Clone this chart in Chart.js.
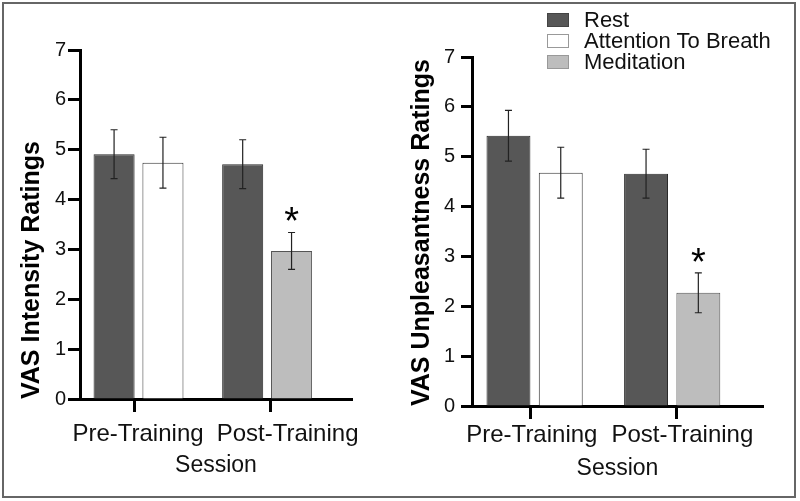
<!DOCTYPE html>
<html>
<head>
<meta charset="utf-8">
<script src="https://cdn.jsdelivr.net/npm/chart.js@4.4.1/dist/chart.umd.min.js"></script>
<style>
  body { margin: 0; background: #fff; }
  #wrap { position: relative; width: 800px; height: 501px; overflow: hidden; font-family: "Liberation Sans", Arial, sans-serif; }
  #frame { position: absolute; left: 2px; top: 2px; width: 790px; height: 492px; border: 2px solid #666; }
  canvas { position: absolute; top: 0; }
  #left { left: 0; }
  #right { left: 400px; }
  #legend { position: absolute; left: 547px; top: 9px; }
  .item { position: relative; height: 21px; line-height: 21px; font-size: 22px; color: #111; white-space: nowrap; }
  .box { position: absolute; left: 0; top: 4px; width: 22px; height: 14px; box-sizing: border-box; }
  .txt { position: absolute; left: 37px; top: 0; }
</style>
</head>
<body>
<div id="wrap">
  <div id="frame"></div>
  <canvas id="left" width="400" height="501"></canvas>
  <canvas id="right" width="400" height="501"></canvas>
  <div id="legend"></div>
</div>
<script>
const categories = ["Pre-Training", "Post-Training"];
const seriesNames = ["Rest", "Attention To Breath", "Meditation"];
const yTicks = [0, 1, 2, 3, 4, 5, 6, 7];

// VAS Intensity Ratings (mean, SE)
const intensityRest = [4.91, 4.71];
const intensityRestErr = [0.49, 0.49];
const intensityBreath = [4.74, null];
const intensityBreathErr = [0.51, null];
const intensityMed = [null, 2.97];
const intensityMedErr = [null, 0.37];

// VAS Unpleasantness Ratings (mean, SE)
const unpleasRest = [5.42, 4.66];
const unpleasRestErr = [0.51, 0.49];
const unpleasBreath = [4.68, null];
const unpleasBreathErr = [0.51, null];
const unpleasMed = [null, 2.27];
const unpleasMedErr = [null, 0.40];

// significance marks over the Meditation bars
const medMarks = [null, "*"];

const FONT = '"Liberation Sans", Arial, sans-serif';
const colors = {
  fill: ["#575757", "#ffffff", "#bdbdbd"],
  border: ["#2a2a2a", "#333333", "#555555"]
};

function toPoints(vals) {
  return vals.map((v, i) => ({ x: i, y: v }));
}

// draws SE whiskers and the significance stars
const errorBars = {
  id: "errorBars",
  afterDatasetsDraw(chart) {
    const ctx = chart.ctx;
    const yScale = chart.scales.y;
    chart.data.datasets.forEach((ds, d) => {
      const meta = chart.getDatasetMeta(d);
      ds.data.forEach((p, i) => {
        if (p.y == null) return;
        const bar = meta.data[i];
        const top = yScale.getPixelForValue(p.y + ds.errors[i]);
        const bot = yScale.getPixelForValue(p.y - ds.errors[i]);
        ctx.save();
        ctx.strokeStyle = "#222";
        ctx.lineWidth = 1.2;
        ctx.beginPath();
        ctx.moveTo(bar.x, top); ctx.lineTo(bar.x, bot);
        ctx.moveTo(bar.x - 3.5, top); ctx.lineTo(bar.x + 3.5, top);
        ctx.moveTo(bar.x - 3.5, bot); ctx.lineTo(bar.x + 3.5, bot);
        ctx.stroke();
        if (ds.marks && ds.marks[i]) {
          ctx.fillStyle = "#000";
          ctx.font = "38px " + FONT;
          ctx.textAlign = "center";
          ctx.textBaseline = "alphabetic";
          ctx.fillText(ds.marks[i], bar.x, top + 2);
        }
        ctx.restore();
      });
    });
  }
};

function makeChart(id, cfg) {
  const ctx = document.getElementById(id).getContext("2d");
  const series = [cfg.rest, cfg.breath, cfg.med];
  const errs = [cfg.restErr, cfg.breathErr, cfg.medErr];
  return new Chart(ctx, {
    type: "bar",
    data: {
      datasets: series.map((vals, k) => ({
        label: seriesNames[k],
        data: toPoints(vals),
        errors: errs[k],
        marks: k === 2 ? medMarks : null,
        backgroundColor: colors.fill[k],
        borderColor: colors.border[k],
        borderWidth: 1,
        borderSkipped: "bottom"
      }))
    },
    options: {
      responsive: false,
      animation: false,
      events: [],
      layout: { padding: { left: 0, top: cfg.top, right: cfg.right, bottom: 0 } },
      plugins: { legend: { display: false }, tooltip: { enabled: false } },
      datasets: { bar: { categoryPercentage: 0.76, barPercentage: 0.84, skipNull: true } },
      scales: {
        x: {
          type: "linear",
          position: "bottom",
          min: -0.455,
          max: 1.66,
          offset: false,
          z: 1,
          afterBuildTicks: s => { s.ticks = cfg.tickMarks.map(v => ({ value: v })); },
          afterFit: s => { s.height = 14; },
          ticks: { display: false },
          grid: { offset: false, drawOnChartArea: false, drawTicks: true, tickLength: 13, tickWidth: 3, tickColor: "#000" },
          border: { display: true, width: 3, color: "#000" }
        },
        x2: {
          type: "linear",
          position: "bottom",
          min: -0.455,
          max: 1.66,
          offset: false,
          afterBuildTicks: s => { s.ticks = cfg.labelPos.map(v => ({ value: v })); },
          afterFit: s => { s.height = cfg.x2Height; },
          ticks: {
            autoSkip: false,
            maxRotation: 0,
            padding: cfg.labelPad,
            color: "#111",
            font: { family: FONT, size: 24 },
            callback: (v, i) => categories[i]
          },
          grid: { display: false, drawTicks: false, offset: false },
          border: { display: false },
          title: {
            display: true,
            text: "Session",
            color: "#111",
            font: { family: FONT, size: 23 },
            padding: { top: 0, bottom: cfg.sessionPad }
          }
        },
        y: {
          min: 0,
          max: 7,
          afterBuildTicks: s => { s.ticks = yTicks.map(v => ({ value: v })); },
          afterFit: s => { s.width = cfg.yWidth; },
          ticks: { color: "#111", padding: cfg.yPad, font: { family: FONT, size: 20 } },
          grid: { drawOnChartArea: false, drawTicks: true, tickLength: cfg.yTick, tickWidth: 3, tickColor: "#000" },
          border: { display: true, width: 3, color: "#000" },
          title: {
            display: true,
            text: cfg.title,
            align: "start",
            color: "#000",
            font: { family: FONT, size: 25, weight: "bold" },
            padding: { top: cfg.titlePad, bottom: 0 }
          }
        }
      }
    },
    plugins: [errorBars]
  });
}

makeChart("left", {
  title: "VAS Intensity Ratings",
  rest: intensityRest, restErr: intensityRestErr,
  breath: intensityBreath, breathErr: intensityBreathErr,
  med: intensityMed, medErr: intensityMedErr,
  top: 50, right: 48, yWidth: 80, yTick: 12, yPad: 2, titlePad: 17,
  x2Height: 88, labelPad: 7, sessionPad: 22,
  tickMarks: [-0.035, 1.023], labelPos: [-0.004, 1.159]
});

const rightChart = makeChart("right", {
  title: "VAS Unpleasantness Ratings",
  rest: unpleasRest, restErr: unpleasRestErr,
  breath: unpleasBreath, breathErr: unpleasBreathErr,
  med: unpleasMed, medErr: unpleasMedErr,
  top: 57, right: 37, yWidth: 72, yTick: 11, yPad: 6, titlePad: 7,
  x2Height: 81, labelPad: 1, sessionPad: 19,
  tickMarks: [-0.031, 1.03], labelPos: [-0.02, 1.074]
});

// HTML legend built from the chart's own legend items
const legendEl = document.getElementById("legend");
const items = rightChart.options.plugins.legend.labels.generateLabels(rightChart);
items.forEach((it, k) => {
  const row = document.createElement("div");
  row.className = "item";
  const box = document.createElement("div");
  box.className = "box";
  box.style.background = it.fillStyle;
  box.style.border = "1px solid " + (k === 0 ? "#444" : "#999");
  const txt = document.createElement("span");
  txt.className = "txt";
  txt.textContent = it.text;
  row.appendChild(box);
  row.appendChild(txt);
  legendEl.appendChild(row);
});
</script>
</body>
